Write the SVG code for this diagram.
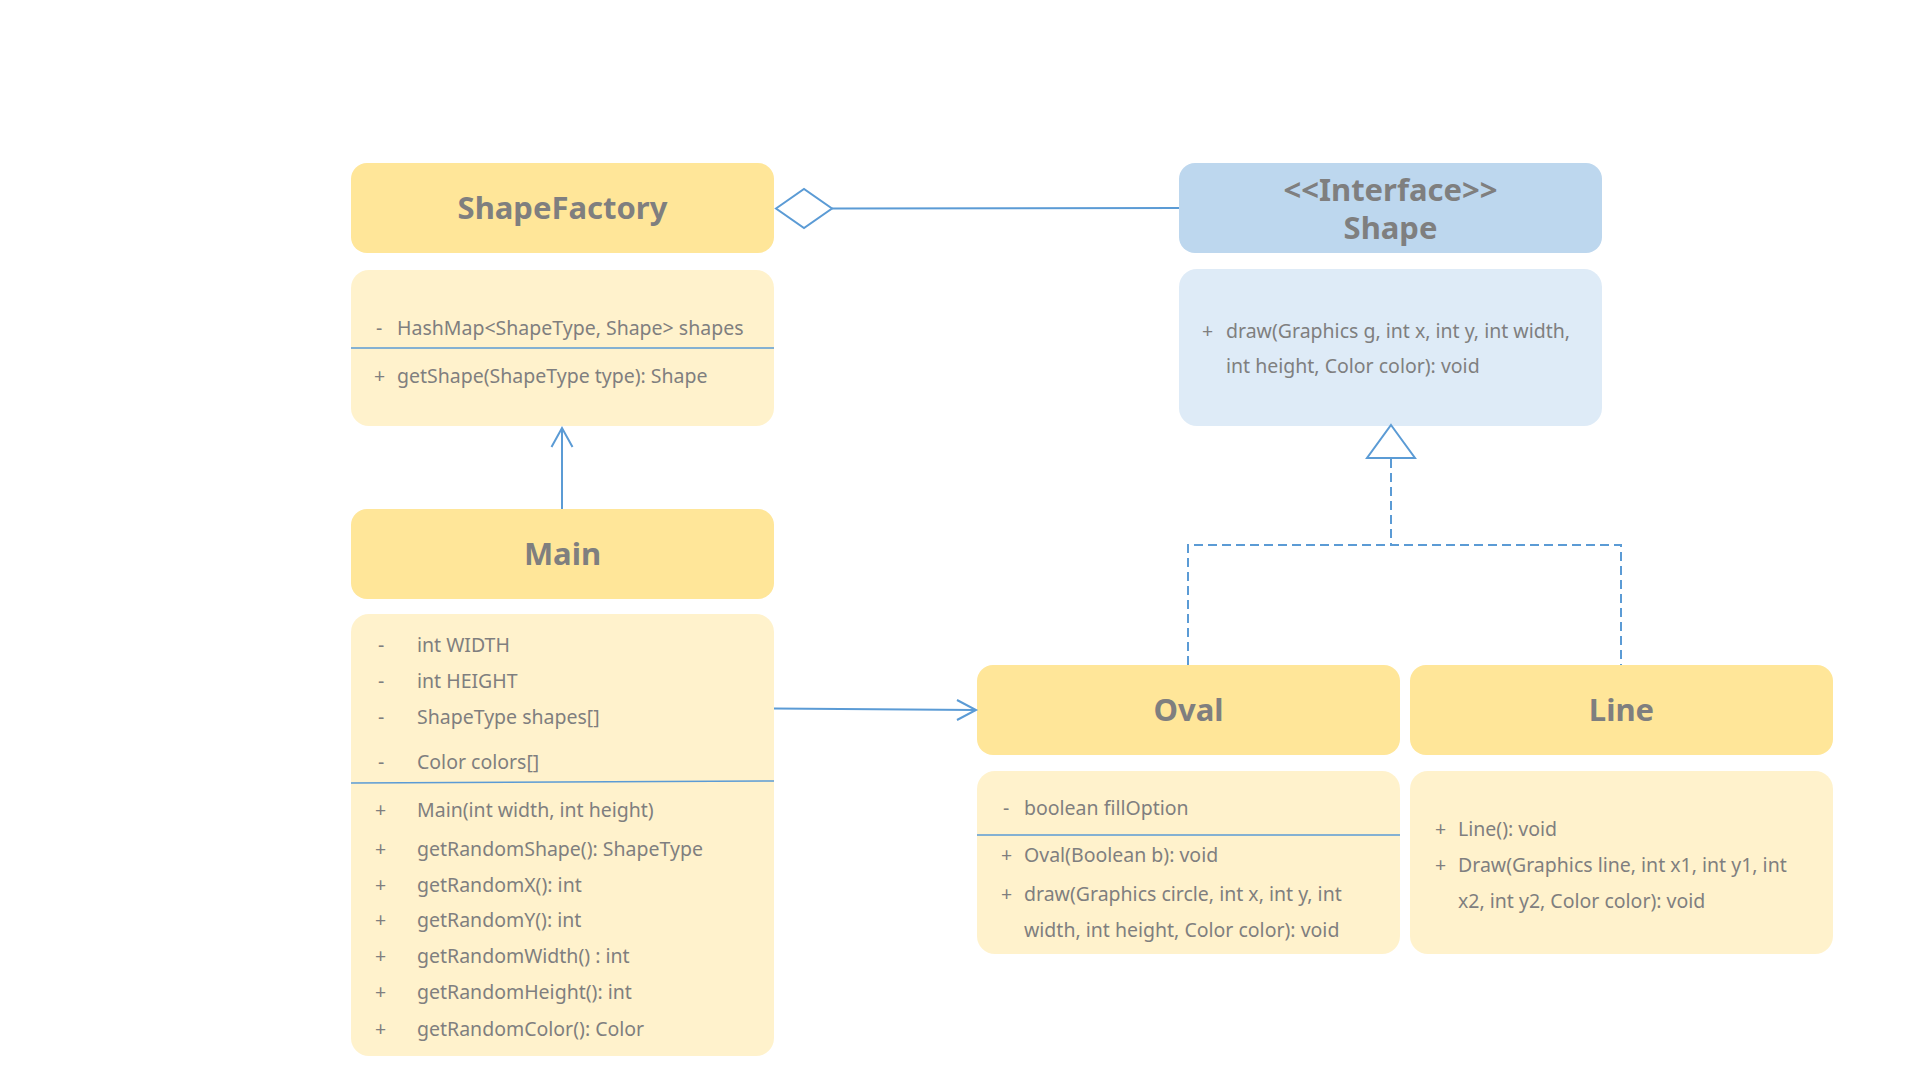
<svg xmlns="http://www.w3.org/2000/svg" width="1920" height="1080" viewBox="0 0 1920 1080">
<style>
.hdr{fill:#FFE699}
.bdy{fill:#FFF2CC}
.ihdr{fill:#BDD7EE}
.ibdy{fill:#DEEBF7}
.title{font-family:"Noto Sans","Open Sans",sans-serif;font-weight:bold;font-size:31px;fill:#7F7F7F;text-anchor:middle}
.t{font-family:"Noto Sans","Open Sans",sans-serif;font-size:19.5px;fill:#7F7F7F}
.div{stroke:#5B9BD5;stroke-width:1.5;fill:none}
.conn{stroke:#5B9BD5;stroke-width:2;fill:none}
.dash{stroke:#5B9BD5;stroke-width:2;fill:none;stroke-dasharray:9 5}
</style>
<rect width="1920" height="1080" fill="#FFFFFF"/>

<g id="ShapeFactory">
<rect class="hdr" x="351" y="163" width="423" height="90" rx="16"/>
<text class="title" x="562.5" y="219">ShapeFactory</text>
<rect class="bdy" x="351" y="270" width="423" height="156" rx="18"/>
<text class="t" x="376" y="335">-</text>
<text class="t" x="397" y="335">HashMap&lt;ShapeType, Shape&gt; shapes</text>
<line class="div" x1="351" y1="348" x2="774" y2="348"/>
<text class="t" x="374" y="383">+</text>
<text class="t" x="397" y="383">getShape(ShapeType type): Shape</text>
</g>

<g id="Shape">
<rect class="ihdr" x="1179" y="163" width="423" height="90" rx="16"/>
<text class="title" x="1390.5" y="201">&lt;&lt;Interface&gt;&gt;</text>
<text class="title" x="1390.5" y="239">Shape</text>
<rect class="ibdy" x="1179" y="269" width="423" height="157" rx="18"/>
<text class="t" x="1202" y="338">+</text>
<text class="t" x="1226" y="338">draw(Graphics g, int x, int y, int width,</text>
<text class="t" x="1226" y="373">int height, Color color): void</text>
</g>

<g id="Main">
<rect class="hdr" x="351" y="509" width="423" height="90" rx="16"/>
<text class="title" x="562.5" y="565">Main</text>
<rect class="bdy" x="351" y="614" width="423" height="442" rx="18"/>
<text class="t" x="378" y="652">-</text><text class="t" x="417" y="652">int WIDTH</text>
<text class="t" x="378" y="688">-</text><text class="t" x="417" y="688">int HEIGHT</text>
<text class="t" x="378" y="724">-</text><text class="t" x="417" y="724">ShapeType shapes[]</text>
<text class="t" x="378" y="769">-</text><text class="t" x="417" y="769">Color colors[]</text>
<line class="div" x1="351" y1="783" x2="774" y2="781"/>
<text class="t" x="375" y="817">+</text><text class="t" x="417" y="817">Main(int width, int height)</text>
<text class="t" x="375" y="856">+</text><text class="t" x="417" y="856">getRandomShape(): ShapeType</text>
<text class="t" x="375" y="892">+</text><text class="t" x="417" y="892">getRandomX(): int</text>
<text class="t" x="375" y="927">+</text><text class="t" x="417" y="927">getRandomY(): int</text>
<text class="t" x="375" y="963">+</text><text class="t" x="417" y="963">getRandomWidth() : int</text>
<text class="t" x="375" y="999">+</text><text class="t" x="417" y="999">getRandomHeight(): int</text>
<text class="t" x="375" y="1036">+</text><text class="t" x="417" y="1036">getRandomColor(): Color</text>
</g>

<g id="Oval">
<rect class="hdr" x="977" y="665" width="423" height="90" rx="16"/>
<text class="title" x="1188.5" y="721">Oval</text>
<rect class="bdy" x="977" y="771" width="423" height="183" rx="18"/>
<text class="t" x="1003" y="815">-</text><text class="t" x="1024" y="815">boolean fillOption</text>
<line class="div" x1="977" y1="835" x2="1400" y2="835"/>
<text class="t" x="1001" y="862">+</text><text class="t" x="1024" y="862">Oval(Boolean b): void</text>
<text class="t" x="1001" y="901">+</text><text class="t" x="1024" y="901">draw(Graphics circle, int x, int y, int</text>
<text class="t" x="1024" y="937">width, int height, Color color): void</text>
</g>

<g id="Line">
<rect class="hdr" x="1410" y="665" width="423" height="90" rx="16"/>
<text class="title" x="1621.5" y="721">Line</text>
<rect class="bdy" x="1410" y="771" width="423" height="183" rx="18"/>
<text class="t" x="1435" y="836">+</text><text class="t" x="1458" y="836">Line(): void</text>
<text class="t" x="1435" y="872">+</text><text class="t" x="1458" y="872">Draw(Graphics line, int x1, int y1, int</text>
<text class="t" x="1458" y="908">x2, int y2, Color color): void</text>
</g>

<g id="connectors">
<polygon class="conn" points="776,208.5 804,189 832,208.5 804,228" fill="#FFFFFF"/>
<line class="conn" x1="832" y1="208.5" x2="1179" y2="208"/>
<line class="conn" x1="562" y1="509" x2="562" y2="429"/>
<polyline class="conn" points="551.5,447 562,428 572.5,447"/>
<line class="conn" x1="774" y1="708.5" x2="975" y2="710"/>
<polyline class="conn" points="957,700 976,710 957,720"/>
<polygon class="conn" points="1391,425 1415,458 1367,458" fill="#FFFFFF"/>
<path class="dash" d="M1391,459 V545 M1188,665 V545 H1621 V665"/>
</g>
</svg>
